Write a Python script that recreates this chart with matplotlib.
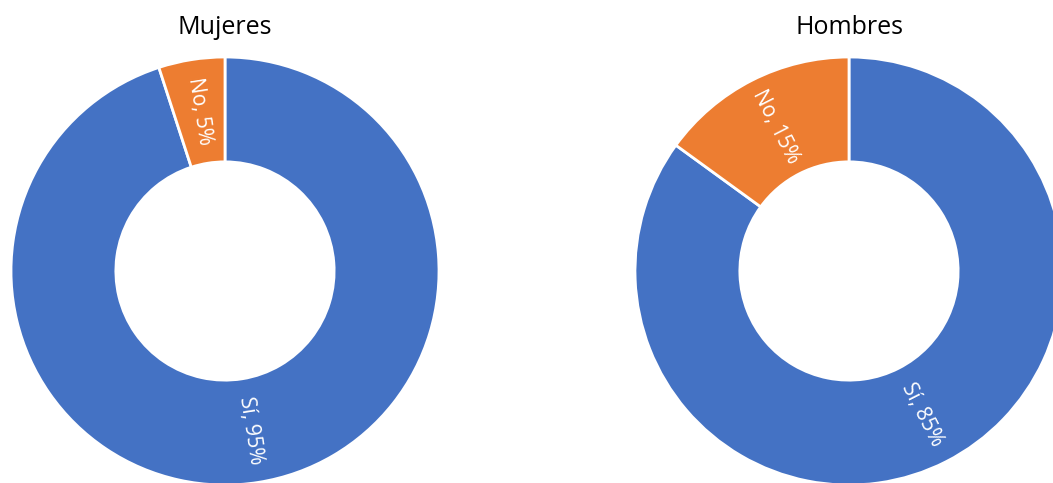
import numpy as np
import matplotlib.pyplot as plt

plt.rcParams['font.family'] = ['Open Sans', 'DejaVu Sans']

titles = ['Mujeres', 'Hombres']
categories = ['Sí', 'No']
values = {'Mujeres': [95, 5], 'Hombres': [85, 15]}
colors = ['#4472C4', '#ED7D31']

W, H = 1053, 483
fig = plt.figure(figsize=(W/100, H/100), dpi=100)

# donut centres and radius in pixels (from top-left)
centers = [(225, 271), (849, 271)]
R = 214

for title, (cx, cy) in zip(titles, centers):
	ax = fig.add_axes([(cx-R)/W, (H-cy-R)/H, 2*R/W, 2*R/H])
	vals = values[title]
	wedges, _ = ax.pie(vals, colors=colors, startangle=90, counterclock=False,
		radius=1, wedgeprops=dict(width=0.49, edgecolor='white', linewidth=2))
	ax.set_xlim(-1, 1)
	ax.set_ylim(-1, 1)
	ax.set_aspect('equal')
	ax.axis('off')
	r_lab = 1-0.49/2
	for w, cat, v in zip(wedges, categories, vals):
		mid = 0.5*(w.theta1+w.theta2)
		x = r_lab*np.cos(np.radians(mid))
		y = r_lab*np.sin(np.radians(mid))
		rot = mid
		if np.sin(np.radians(mid)) > 0:
			rot = mid-180
		ax.text(x, y, '%s, %d%%' % (cat, v), rotation=rot, rotation_mode='anchor',
			ha='center', va='center', color='white', fontsize=15)
	fig.text(cx/W, 1-28/H, title, ha='center', va='center', fontsize=18)

fig.savefig('out.png', dpi=100)
